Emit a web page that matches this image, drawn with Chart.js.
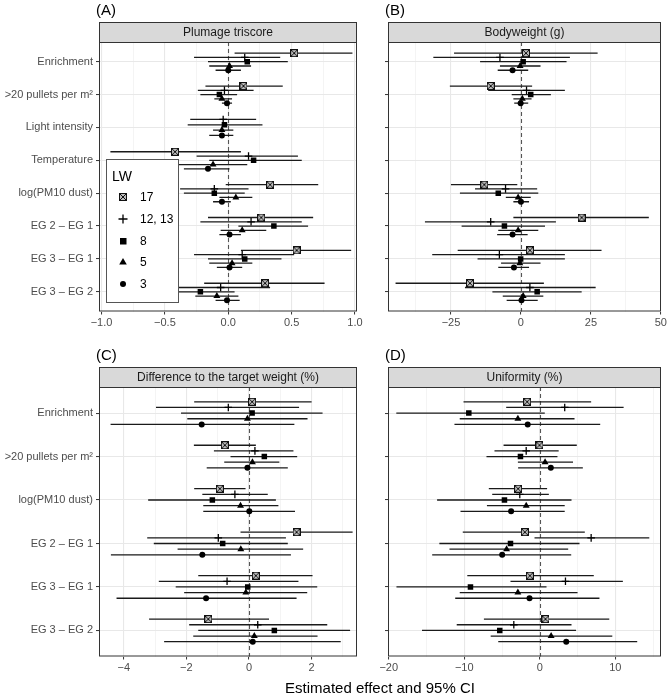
<!DOCTYPE html>
<html>
<head>
<meta charset="utf-8">
<script src="https://cdn.jsdelivr.net/npm/chart.js@4.4.0/dist/chart.umd.min.js"></script>
<style>
  body { margin: 0; background: #fff; width: 669px; height: 699px; position: relative; overflow: hidden; font-family: "Liberation Sans", Arial, sans-serif; }
  canvas { position: absolute; left: 0; top: 0; }
  #xtitle { position: absolute; left: 99px; width: 562px; top: 679px; text-align: center; font-size: 15px; color: #000; }
</style>
</head>
<body>
<canvas id="chartA" width="669" height="699"></canvas>
<canvas id="chartB" width="669" height="699"></canvas>
<canvas id="chartC" width="669" height="699"></canvas>
<canvas id="chartD" width="669" height="699"></canvas>
<div id="xtitle">Estimated effect and 95% CI</div>
<script>
// Groups (rows of every array below): LW 17, 12/13, 8, 5, 3
const lwLabels = ["17", "12, 13", "8", "5", "3"]

const catsTop = ["Enrichment", ">20 pullets per m²", "Light intensity", "Temperature", "log(PM10 dust)", "EG 2 – EG 1", "EG 3 – EG 1", "EG 3 – EG 2"]
const catsBottom = ["Enrichment", ">20 pullets per m²", "log(PM10 dust)", "EG 2 – EG 1", "EG 3 – EG 1", "EG 3 – EG 2"]

// (A) Plumage triscore
const plumageEst = [
  [0.52, 0.12, null, -0.42, 0.33, 0.26, 0.54, 0.29],
  [0.13, -0.03, -0.04, 0.16, -0.11, 0.18, 0.11, -0.06],
  [0.15, -0.07, -0.03, 0.2, -0.11, 0.36, 0.13, -0.22],
  [0.01, -0.05, -0.05, -0.12, 0.06, 0.11, 0.03, -0.09],
  [0.0, -0.01, -0.05, -0.16, -0.05, 0.01, 0.01, -0.01],
]
const plumageLo = [
  [0.05, -0.18, null, -0.93, -0.02, -0.16, 0.1, -0.19],
  [-0.27, -0.24, -0.3, -0.25, -0.38, -0.22, -0.27, -0.45],
  [-0.16, -0.22, -0.32, -0.15, -0.35, 0.08, -0.16, -0.51],
  [-0.15, -0.11, -0.12, -0.4, -0.07, -0.06, -0.15, -0.26],
  [-0.1, -0.05, -0.15, -0.35, -0.12, -0.07, -0.09, -0.1],
]
const plumageHi = [
  [0.98, 0.43, null, 0.1, 0.71, 0.67, 0.97, 0.76],
  [0.41, 0.2, 0.22, 0.55, 0.16, 0.58, 0.52, 0.33],
  [0.47, 0.07, 0.27, 0.58, 0.13, 0.63, 0.42, 0.05],
  [0.18, 0.03, 0.04, 0.15, 0.19, 0.3, 0.19, 0.08],
  [0.1, 0.03, 0.04, 0.01, 0.02, 0.1, 0.11, 0.09],
]

// (B) Bodyweight (g)
const weightEst = [
  [1.8, -10.8, null, null, -13.1, 21.7, 3.2, -18.2],
  [-7.5, 2.0, null, null, -5.5, -10.8, -7.7, 3.2],
  [0.8, 3.5, null, null, -8.1, -5.9, -0.1, 5.8],
  [-0.3, 0.5, null, null, -1.0, -1.0, -0.4, 0.8],
  [-3.0, -0.1, null, null, 0.0, -3.0, -2.5, 0.2],
]
const weightLo = [
  [-23.9, -25.4, null, null, -25.0, -2.7, -22.6, -44.8],
  [-31.3, -11.7, null, null, -16.4, -34.3, -31.7, -20.0],
  [-14.6, -3.3, null, null, -21.8, -21.2, -15.5, -10.2],
  [-7.5, -2.7, null, null, -5.4, -8.1, -7.1, -6.5],
  [-8.3, -2.4, null, null, -2.7, -8.5, -8.1, -5.1],
]
const weightHi = [
  [27.4, 4.0, null, null, -1.3, 45.7, 28.8, 8.2],
  [17.5, 15.7, null, null, 5.8, 12.5, 15.7, 26.7],
  [16.3, 10.7, null, null, 6.2, 8.6, 15.7, 21.7],
  [7.0, 3.8, null, null, 3.5, 6.2, 7.0, 8.0],
  [2.6, 2.6, null, null, 2.9, 2.4, 2.9, 6.0],
]

// (C) Difference to the target weight (%)
const targetEst = [
  [0.1, -0.77, -0.93, 1.52, 0.22, -1.3],
  [-0.66, 0.19, -0.45, -0.98, -0.7, 0.28],
  [0.1, 0.49, -1.17, -0.84, -0.04, 0.81],
  [-0.05, 0.11, -0.27, -0.26, -0.1, 0.17],
  [-1.51, -0.05, 0.01, -1.49, -1.37, 0.12],
]
const targetLo = [
  [-1.75, -1.76, -1.75, -0.27, -1.62, -3.19],
  [-2.97, -1.12, -1.49, -3.25, -2.88, -1.91],
  [-2.17, -0.59, -3.22, -3.04, -2.34, -1.62],
  [-1.97, -0.79, -1.46, -2.28, -2.07, -1.78],
  [-4.42, -1.35, -1.46, -4.41, -4.23, -2.71],
]
const targetHi = [
  [2.0, 0.22, -0.11, 3.31, 2.03, 0.64],
  [1.6, 1.42, 0.6, 1.18, 1.58, 2.5],
  [2.35, 1.54, 0.86, 1.24, 2.18, 3.23],
  [1.87, 0.97, 0.94, 1.73, 1.86, 2.19],
  [1.45, 1.24, 1.47, 1.34, 1.52, 2.93],
]

// (D) Uniformity (%)
const uniformEst = [
  [-1.67, -0.04, -2.87, -1.98, -1.32, 0.75],
  [3.3, -1.8, -2.65, 6.8, 3.4, -3.44],
  [-9.4, -2.56, -4.68, -3.88, -9.18, -5.3],
  [-2.9, 0.7, -1.8, -4.4, -2.9, 1.5],
  [-1.6, 1.46, -3.8, -4.98, -1.36, 3.5],
]
const uniformLo = [
  [-10.1, -4.8, -6.75, -10.2, -9.6, -7.4],
  [-4.45, -6.0, -6.3, -0.7, -3.88, -11.0],
  [-19.0, -7.06, -13.6, -13.3, -18.98, -15.6],
  [-10.6, -2.9, -7.0, -11.96, -10.6, -6.5],
  [-11.3, -2.87, -10.5, -14.25, -11.2, -5.5],
]
const uniformHi = [
  [6.8, 4.9, 0.97, 5.96, 7.15, 9.2],
  [11.1, 2.5, 1.2, 14.5, 11.0, 4.2],
  [0.66, 2.34, 4.2, 5.26, 0.89, 4.8],
  [4.6, 4.4, 3.3, 3.76, 5.0, 9.6],
  [8.0, 5.7, 3.3, 4.16, 7.9, 12.9],
]

const dodgeWidth = 0.65
const ink = "#000"
const FONT = "Liberation Sans"

// square with a cross inside, used for LW 17
function makeBoxCross(size) {
  const c = document.createElement("canvas")
  c.width = size
  c.height = size
  const g = c.getContext("2d")
  g.fillStyle = "#bdbdbd"
  g.fillRect(0, 0, size, size)
  g.strokeStyle = "#111"
  g.lineWidth = 1
  g.strokeRect(0.5, 0.5, size - 1, size - 1)
  g.beginPath()
  g.moveTo(1, 1)
  g.lineTo(size - 1, size - 1)
  g.moveTo(size - 1, 1)
  g.lineTo(1, size - 1)
  g.stroke()
  return c
}

const pointStyles = [makeBoxCross(8), "cross", "rect", "triangle", "circle"]
const pointRadii = [4, 3.8, 3.9, 4, 3]

// vertical position of group g inside category i (like position_dodge)
function dodgeY(est, g, i) {
  const present = []
  est.forEach((row, k) => { if (row[i] !== null) present.push(k) })
  const n = present.length
  const k = present.indexOf(g)
  return i + (k - (n - 1) / 2) * dodgeWidth / n
}

function buildDatasets(cats, est, lo, hi) {
  const sets = []
  lwLabels.forEach((lw, g) => {
    const seg = []
    const pts = []
    cats.forEach((c, i) => {
      if (est[g][i] === null) return
      const y = dodgeY(est, g, i)
      seg.push({ x: lo[g][i], y }, { x: hi[g][i], y }, { x: null, y: null })
      pts.push({ x: est[g][i], y })
    })
    sets.push({
      label: lw + " CI",
      data: seg,
      showLine: true,
      spanGaps: false,
      borderColor: "#1a1a1a",
      borderWidth: 1.3,
      pointRadius: 0,
      order: 2,
    })
    sets.push({
      label: lw,
      data: pts,
      showLine: false,
      pointStyle: pointStyles[g],
      pointRadius: pointRadii[g],
      backgroundColor: ink,
      borderColor: ink,
      borderWidth: g === 1 ? 1.3 : 0,
      order: 1,
    })
  })
  return sets
}

function isMajor(v, step) {
  return Math.abs(v / step - Math.round(v / step)) < 1e-6
}

function fmtTick(v, digits) {
  const s = Math.abs(v).toFixed(digits)
  return (v < -1e-9 ? "\u2212" : "") + s
}

function drawLegend(ctx) {
  const bx = 106, by = 159, bw = 72, bh = 143
  ctx.save()
  ctx.fillStyle = "#fff"
  ctx.fillRect(bx, by, bw, bh)
  ctx.strokeStyle = "#555"
  ctx.lineWidth = 1
  ctx.strokeRect(bx + 0.5, by + 0.5, bw, bh)
  ctx.fillStyle = "#000"
  ctx.font = "14px " + FONT
  ctx.textBaseline = "middle"
  ctx.fillText("LW", 112, 177)
  ctx.font = "12px " + FONT
  const ys = [197, 219, 241, 262, 284]
  lwLabels.forEach((lw, g) => {
    const x = 123, y = ys[g]
    ctx.fillStyle = ink
    ctx.strokeStyle = ink
    if (g === 0) {
      ctx.drawImage(pointStyles[0], x - 4, y - 4)
    } else if (g === 1) {
      ctx.lineWidth = 1.3
      ctx.beginPath()
      ctx.moveTo(x - 4.5, y); ctx.lineTo(x + 4.5, y)
      ctx.moveTo(x, y - 4.5); ctx.lineTo(x, y + 4.5)
      ctx.stroke()
    } else if (g === 2) {
      ctx.fillRect(x - 3, y - 3, 6.5, 6.5)
    } else if (g === 3) {
      ctx.beginPath()
      ctx.moveTo(x, y - 4); ctx.lineTo(x + 3.8, y + 2.6); ctx.lineTo(x - 3.8, y + 2.6)
      ctx.closePath()
      ctx.fill()
    } else {
      ctx.beginPath()
      ctx.arc(x, y, 3, 0, Math.PI * 2)
      ctx.fill()
    }
    ctx.fillStyle = "#000"
    ctx.fillText(lw, 140, y + 0.5)
  })
  ctx.restore()
}

// strip, tag, border, zero line and legend
const panelDeco = {
  id: "panelDeco",
  beforeDatasetsDraw(chart) {
    const { ctx, chartArea } = chart
    const x0 = Math.round(chart.scales.x.getPixelForValue(0)) + 0.5
    ctx.save()
    ctx.strokeStyle = "#555"
    ctx.lineWidth = 1.1
    ctx.setLineDash([4, 3])
    ctx.beginPath()
    ctx.moveTo(x0, chartArea.top)
    ctx.lineTo(x0, chartArea.bottom)
    ctx.stroke()
    ctx.restore()
  },
  afterDraw(chart, args, opts) {
    const { ctx, chartArea } = chart
    const l = chartArea.left, r = chartArea.right, t = chartArea.top, b = chartArea.bottom
    ctx.save()
    ctx.strokeStyle = "#333"
    ctx.lineWidth = 1
    ctx.strokeRect(l + 0.5, t + 0.5, r - l - 1, b - t - 1)
    // strip
    ctx.fillStyle = "#d9d9d9"
    ctx.fillRect(l, t - 20, r - l, 20)
    ctx.strokeRect(l + 0.5, t - 20 + 0.5, r - l - 1, 20)
    ctx.fillStyle = "#1a1a1a"
    ctx.font = "12px " + FONT
    ctx.textAlign = "center"
    ctx.textBaseline = "middle"
    ctx.fillText(opts.strip, (l + r) / 2, t - 9.5)
    // tag
    ctx.fillStyle = "#000"
    ctx.font = "15px " + FONT
    ctx.textAlign = "left"
    ctx.fillText(opts.tag, l - 3, t - 31)
    ctx.restore()
    if (opts.legend) drawLegend(ctx)
  },
}

function makePanel(id, cfg) {
  const yAxisW = cfg.showLabels ? cfg.left : 10
  new Chart(document.getElementById(id), {
    type: "scatter",
    data: { datasets: buildDatasets(cfg.cats, cfg.est, cfg.lo, cfg.hi) },
    plugins: [panelDeco],
    options: {
      responsive: false,
      animation: false,
      events: [],
      layout: {
        padding: { left: cfg.left - yAxisW, top: cfg.top, right: 669 - cfg.right, bottom: 699 - cfg.bottom - 20 },
      },
      scales: {
        x: {
          type: "linear",
          min: cfg.xMin,
          max: cfg.xMax,
          afterBuildTicks(scale) {
            const ticks = []
            for (let v = Math.ceil(cfg.xMin / cfg.minor - 1e-9) * cfg.minor; v <= cfg.xMax + 1e-9; v += cfg.minor) {
              ticks.push({ value: Math.round(v * 1000) / 1000 })
            }
            scale.ticks = ticks
          },
          afterFit(scale) {
            scale.height = 20
            scale.paddingLeft = 0
            scale.paddingRight = 0
          },
          border: { display: false },
          grid: {
            color: (c) => (isMajor(c.tick.value, cfg.major) ? "#e8e8e8" : "#f1f1f1"),
            lineWidth: (c) => (isMajor(c.tick.value, cfg.major) ? 1.1 : 0.8),
            tickColor: (c) => (isMajor(c.tick.value, cfg.major) ? "#333" : "rgba(0,0,0,0)"),
            tickLength: 3,
            tickWidth: 1,
          },
          ticks: {
            autoSkip: false,
            maxRotation: 0,
            padding: 2,
            color: "#4d4d4d",
            font: { family: FONT, size: 11 },
            callback: (v) => (isMajor(v, cfg.major) ? fmtTick(v, cfg.digits) : ""),
          },
        },
        y: {
          type: "linear",
          reverse: true,
          min: -0.6,
          max: cfg.cats.length - 0.4,
          afterBuildTicks(scale) {
            scale.ticks = cfg.cats.map((c, i) => ({ value: i }))
          },
          afterFit(scale) {
            scale.width = yAxisW
            scale.paddingTop = 0
            scale.paddingBottom = 0
          },
          border: { display: false },
          grid: { color: "#e8e8e8", lineWidth: 1.1, tickColor: "#333", tickLength: 3, tickWidth: 1 },
          ticks: {
            autoSkip: false,
            padding: 3,
            color: "#4d4d4d",
            font: { family: FONT, size: 11 },
            callback: (v) => (cfg.showLabels ? cfg.cats[v] : ""),
          },
        },
      },
      plugins: {
        legend: { display: false },
        tooltip: { enabled: false },
        panelDeco: { strip: cfg.strip, tag: cfg.tag, legend: cfg.legend },
      },
    },
  })
}

makePanel("chartA", {
  cats: catsTop, est: plumageEst, lo: plumageLo, hi: plumageHi,
  strip: "Plumage triscore", tag: "(A)", legend: true, showLabels: true,
  left: 99, top: 42, right: 357, bottom: 311.5,
  xMin: -1.02, xMax: 1.016, minor: 0.25, major: 0.5, digits: 1,
})
makePanel("chartB", {
  cats: catsTop, est: weightEst, lo: weightLo, hi: weightHi,
  strip: "Bodyweight (g)", tag: "(B)", legend: false, showLabels: false,
  left: 388, top: 42, right: 661, bottom: 311.5,
  xMin: -47.5, xMax: 50.05, minor: 12.5, major: 25, digits: 0,
})
makePanel("chartC", {
  cats: catsBottom, est: targetEst, lo: targetLo, hi: targetHi,
  strip: "Difference to the target weight (%)", tag: "(C)", legend: false, showLabels: true,
  left: 99, top: 387, right: 357, bottom: 656.5,
  xMin: -4.79, xMax: 3.45, minor: 1, major: 2, digits: 0,
})
makePanel("chartD", {
  cats: catsBottom, est: uniformEst, lo: uniformLo, hi: uniformHi,
  strip: "Uniformity (%)", tag: "(D)", legend: false, showLabels: false,
  left: 388, top: 387, right: 661, bottom: 656.5,
  xMin: -20.1, xMax: 16.05, minor: 5, major: 10, digits: 0,
})
</script>
</body>
</html>
